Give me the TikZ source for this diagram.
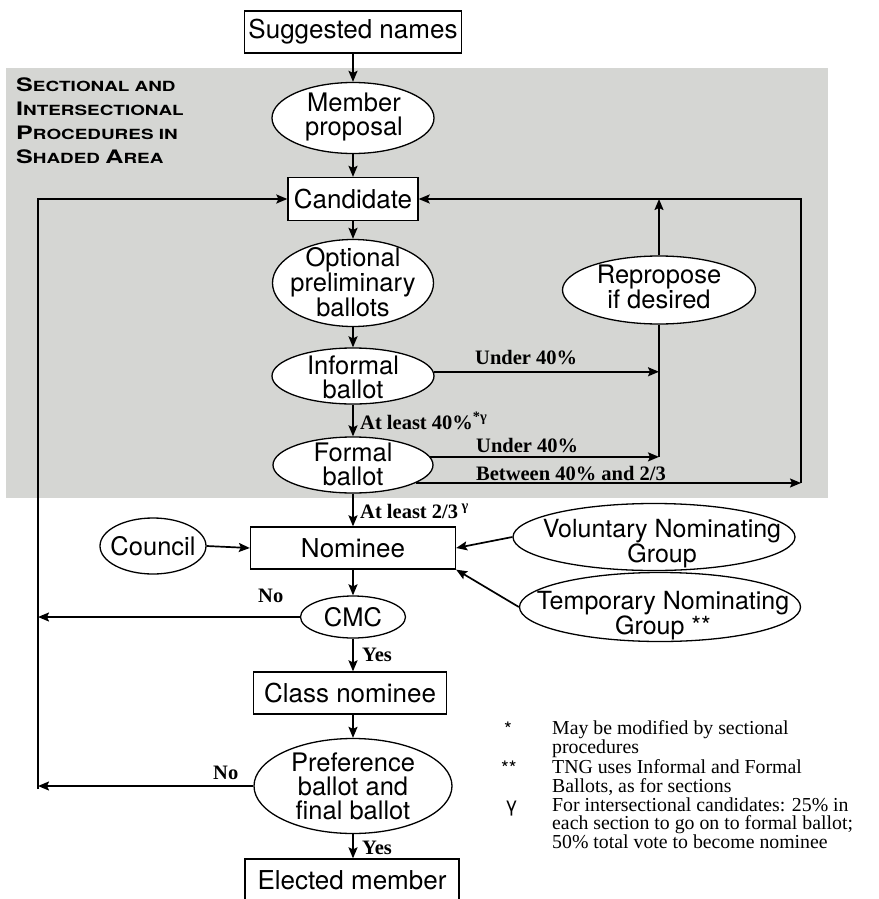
\documentclass[tikz,border=0pt]{standalone}
\usepackage{fontspec}
\usepackage{graphicx}
\setmainfont{Liberation Serif}
\newfontfamily\helv{TeX Gyre Heros}
\newfontfamily\tms{Liberation Serif}
\usetikzlibrary{shapes.geometric,arrows.meta,calc}
\definecolor{shadegray}{RGB}{213,214,211}
\newcommand\hdrbig[1]{{\fontsize{18.6}{20}\selectfont #1}}
\newcommand\hdrsmall[1]{{\fontsize{14}{16}\selectfont #1}}
\begin{document}
\begin{tikzpicture}[x=1pt,y=-1pt,
  conn/.style={line width=1.7pt,-{Stealth[length=11pt,width=9pt,inset=2pt]}},
  plain/.style={line width=1.7pt},
  box/.style={draw,line width=1.3pt,rectangle,inner sep=0pt,fill=white,font=\helv\fontsize{26}{24}\selectfont},
  ell/.style={draw,line width=1.3pt,ellipse,inner sep=0pt,fill=white},
  etext/.style={inner sep=0pt,align=center,font=\helv\fontsize{25.5}{24}\selectfont},
  etextw/.style={inner sep=0pt,align=center,font=\helv\fontsize{25}{20}\selectfont},
  lbl/.style={inner sep=0pt,anchor=base west,font=\tms\bfseries\fontsize{20.5}{22}\selectfont},
  fn/.style={inner sep=0pt,anchor=base west,font=\tms\fontsize{19.8}{19}\selectfont},
  fnm/.style={inner sep=0pt,anchor=base west,font=\helv\fontsize{20}{20}\selectfont},
  hdr/.style={inner sep=0pt,anchor=base west,font=\helv\bfseries},
]
\useasboundingbox (0,0) rectangle (878,899);
\fill[white] (0,0) rectangle (878,899);
\fill[shadegray] (6,68) rectangle (828,498);

% header in shaded area
\node[hdr] (h1) at (16,92) {\scalebox{1.35}[1]{\hdrbig{S}\hdrsmall{ECTIONAL AND}}};
\node[hdr] (h2) at (16,115) {\scalebox{1.35}[1]{\hdrbig{I}\hdrsmall{NTERSECTIONAL}}};
\node[hdr] (h3) at (16,139) {\scalebox{1.35}[1]{\hdrbig{P}\hdrsmall{ROCEDURES IN}}};
\node[hdr] (h4) at (16,163) {\scalebox{1.35}[1]{\hdrbig{S}\hdrsmall{HADED }\hdrbig{A}\hdrsmall{REA}}};

% main nodes
\node[box,minimum width=217pt,minimum height=42pt] (sugg) at (353,32) {Suggested names};
\node[ell,minimum width=162pt,minimum height=71pt] (member) at (353,118) {};
\node[etext] (member-t) at (354,117) {Member\\proposal};
\node[box,minimum width=130pt,minimum height=43pt] (cand) at (353,199) {Candidate};
\node[ell,minimum width=161pt,minimum height=87pt] (opt) at (353,283) {};
\node[etext] (opt-t) at (353,282) {Optional\\preliminary\\ballots};
\node[ell,minimum width=193pt,minimum height=68pt] (repro) at (659,290) {};
\node[etext] (repro-t) at (659,287) {Repropose\\if desired};
\node[ell,minimum width=162pt,minimum height=56pt] (informal) at (353,376) {};
\node[etext] (informal-t) at (353,377) {Informal\\ballot};
\node[ell,minimum width=160pt,minimum height=56pt] (formal) at (353,465) {};
\node[etext] (formal-t) at (353,464) {Formal\\ballot};
\node[box,minimum width=205pt,minimum height=42pt] (nominee) at (353,548) {Nominee};
\node[ell,minimum width=106pt,minimum height=56pt] (council) at (153,546) {};
\node[etext] (council-t) at (153,546) {Council};
\node[ell,minimum width=282pt,minimum height=67pt] (vol) at (654,537) {};
\node[etextw] (vol-t) at (662,544) {Voluntary Nominating\\Group};
\node[ell,minimum width=281pt,minimum height=69pt] (temp) at (660,607) {};
\node[etextw] (temp-t) at (663,616) {Temporary Nominating\\Group **};
\node[ell,minimum width=105pt,minimum height=42pt] (cmc) at (353,617) {};
\node[etext] (cmc-t) at (353,617) {CMC};
\node[box,minimum width=193pt,minimum height=42pt] (classn) at (350,693) {Class nominee};
\node[ell,minimum width=198pt,minimum height=95pt] (pref) at (353,786) {};
\node[etext] (pref-t) at (353,786) {Preference\\ballot and\\final ballot};
\node[box,minimum width=214pt,minimum height=42pt] (elected) at (352,880) {Elected member};

% main column connectors
\draw[conn] (sugg.south) -- (member.north);
\draw[conn] (member.south) -- (cand.north);
\draw[conn] (cand.south) -- (opt.north);
\draw[conn] (opt.south) -- (informal.north);
\draw[conn] (informal.south) -- (formal.north);
\draw[conn] (formal.south) -- (nominee.north);
\draw[conn] (nominee.south) -- (cmc.north);
\draw[conn] (cmc.south) -- (cmc.south |- classn.north);
\draw[conn] (pref.north |- classn.south) -- (pref.north);
\draw[conn] (pref.south) -- (pref.south |- elected.north);
\draw[conn] (council.east) -- (nominee.west);
\draw[conn] (vol.west) -- (nominee.east);
\draw[conn] (temp.west) -- (nominee.south east);

% right side loops
\coordinate (rc) at (801,483);
\draw[conn] (informal.3) -- (informal.3 -| repro.south);
\draw[conn] (formal.6) -- (formal.6 -| repro.south);
\draw[conn] (formal.-16) -- (formal.-16 -| rc);
\draw[plain] (repro.south) -- (repro.south |- formal.6);
\draw[conn] (repro.north) -- (repro.north |- cand.east);
\draw[conn] (formal.-16 -| rc) |- (cand.east);

% left loop
\coordinate (lb) at (38,789);
\draw[conn] (cmc.west) -- (cmc.west -| lb);
\draw[conn] (pref.west) -- (pref.west -| lb);
\draw[conn] (lb) |- (cand.west);

% labels
\node[lbl] (l-u1) at (475,364) {Under 40\%};
\node[lbl] (l-al40) at (360,429) {At least 40\%\textsuperscript{*γ}};
\node[lbl] (l-u2) at (476,452) {Under 40\%};
\node[lbl] (l-btw) at (476,480) {Between 40\% and 2/3};
\node[lbl] (l-al23) at (360,518) {At least 2/3\,\textsuperscript{γ}};
\node[lbl] (l-no1) at (258,602) {No};
\node[lbl] (l-yes1) at (362,661) {Yes};
\node[lbl] (l-no2) at (213,779) {No};
\node[lbl] (l-yes2) at (362,854) {Yes};

% footnotes
\node[fnm] (f1m) at (504,736) {*};
\node[fn] (f1a) at (552,734) {May be modified by sectional};
\node[fn] (f1b) at (552,753) {procedures};
\node[fnm] (f2m) at (501,775) {**};
\node[fn] (f2a) at (552,773) {TNG uses Informal and Formal};
\node[fn] (f2b) at (552,792) {Ballots, as for sections};
\node[fnm] (f3m) at (505,811) {γ};
\node[fn] (f3a) at (552,811) {For intersectional candidates: 25\% in};
\node[fn] (f3b) at (552,829.5) {each section to go on to formal ballot;};
\node[fn] (f3c) at (552,848) {50\% total vote to become nominee};
\end{tikzpicture}
\end{document}
